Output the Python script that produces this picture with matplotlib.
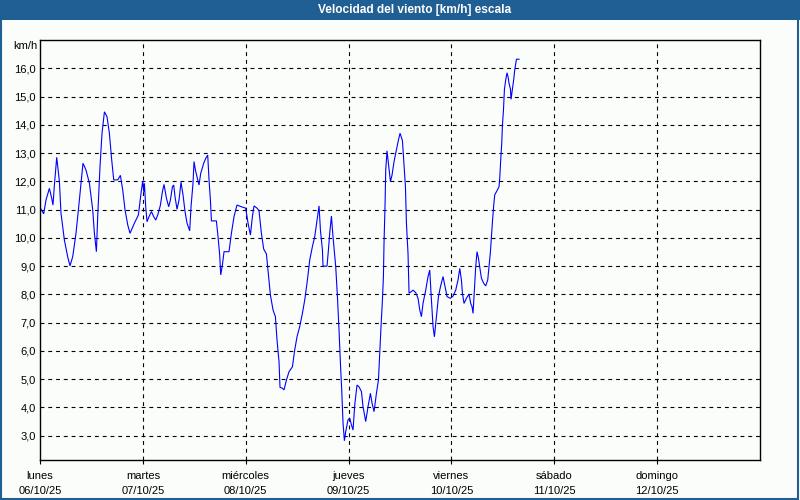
import matplotlib
matplotlib.use("Agg")
import matplotlib.pyplot as plt
from matplotlib.patches import Rectangle

plt.rcParams['font.family'] = ['Liberation Sans', 'DejaVu Sans']

title = "Velocidad del viento [km/h] escala"
unit = "km/h"
day_names = ["lunes", "martes", "miércoles", "jueves", "viernes", "sábado", "domingo"]
day_dates = ["06/10/25", "07/10/25", "08/10/25", "09/10/25", "10/10/25", "11/10/25", "12/10/25"]
y_ticks = [3, 4, 5, 6, 7, 8, 9, 10, 11, 12, 13, 14, 15, 16]

# hours since Monday 06/10/25 00:00
hours = [0.1, 0.86, 1.40, 2.19, 2.73, 3.03, 3.36, 3.90, 4.53, 4.90, 5.69, 6.46, 7.00, 7.63,
         8.40, 9.19, 10.03, 10.73, 11.53, 12.30, 12.69, 13.16, 13.46, 14.00, 14.47, 15.03,
         15.63, 16.19, 16.73, 17.20, 18.13, 18.76, 19.30, 19.84, 20.47, 21.00, 22.03, 22.96,
         23.57, 23.97, 24.20, 24.36, 24.67, 24.97, 25.44, 26.00, 26.53, 27.00, 27.54, 28.10,
         28.56, 28.94, 29.50, 30.03, 30.43, 30.90, 31.20, 31.50, 31.97, 32.44, 32.90, 33.37,
         33.84, 34.30, 34.93, 35.24, 35.70, 35.94, 36.26, 36.64, 37.10, 37.50, 38.20, 38.67,
         39.13, 39.44, 39.76, 40.00, 41.16, 41.54, 41.93, 42.17, 42.56, 42.94, 44.10, 44.66,
         45.27, 45.97, 47.00, 48.00, 48.54, 49.10, 49.56, 49.94, 50.64, 51.10, 51.66, 52.20,
         52.83, 53.20, 53.76, 54.37, 54.93, 55.30, 55.77, 56.00, 56.56, 56.94, 57.50, 58.10,
         58.90, 59.43, 59.97, 60.60, 61.23, 61.77, 62.30, 62.94, 63.56, 64.10, 64.64, 65.11,
         65.43, 65.90, 66.04, 66.97, 67.30, 67.60, 68.00, 68.37, 69.00, 69.40, 69.77, 70.10,
         70.40, 70.71, 71.03, 71.33, 71.87, 72.27, 72.67, 73.04, 73.44, 73.97, 74.44, 75.00,
         75.37, 76.00, 76.54, 77.10, 77.48, 77.94, 78.50, 78.97, 79.27, 79.57, 79.90, 80.13,
         80.27, 80.51, 80.67, 80.97, 81.37, 81.77, 82.14, 82.61, 83.17, 83.63, 84.01, 84.57,
         84.87, 85.27, 85.50, 85.87, 86.11, 86.57, 87.04, 87.67, 88.21, 88.61, 89.00, 89.37,
         90.00, 90.54, 90.94, 91.24, 91.71, 92.03, 92.50, 92.97, 93.44, 94.04, 94.51, 94.98,
         95.77, 96.37, 97.00, 97.54, 97.94, 98.33, 98.57, 98.94, 99.50, 100.10, 100.50, 100.81,
         101.04, 101.36, 101.67, 101.97, 102.30, 102.60, 103.00, 103.53, 104.00, 104.47, 104.77,
         105.10, 105.33, 105.57, 105.87, 106.10, 106.64, 107.11, 107.27, 107.50, 107.74, 107.90,
         108.14, 108.37, 108.67, 108.97, 109.21, 109.44, 109.77, 109.91, 110.24, 110.54, 110.77,
         111.17, 111.78]

speed = [11.05, 10.85, 11.34, 11.75, 11.40, 11.16, 11.87, 12.85, 11.99, 10.87, 9.92, 9.33, 9.01, 9.33,
         10.16, 11.34, 12.64, 12.40, 11.93, 10.99, 10.16, 9.51, 10.75, 12.52, 13.70, 14.46,
         14.29, 13.70, 12.76, 12.05, 12.05, 12.21, 11.69, 10.99, 10.46, 10.16, 10.52, 10.81,
         11.58, 12.01, 11.63, 11.93, 11.10, 10.57, 10.75, 10.93, 10.75, 10.63, 10.84, 11.16,
         11.63, 11.89, 11.40, 11.10, 11.34, 11.81, 11.87, 11.46, 11.01, 11.34, 11.97, 11.52,
         10.93, 10.52, 10.25, 11.10, 11.93, 12.70, 12.40, 12.16, 11.87, 12.28, 12.64, 12.81,
         12.93, 12.05, 11.34, 10.60, 10.60, 10.04, 9.39, 8.69, 9.04, 9.51, 9.51, 10.16,
         10.75, 11.16, 11.10, 11.05, 10.52, 10.10, 10.75, 11.13, 11.05, 10.96, 10.16, 9.60,
         9.43, 8.86, 7.98, 7.45, 7.21, 6.39, 5.62, 4.71, 4.68, 4.62, 4.97, 5.26,
         5.44, 6.03, 6.50, 6.86, 7.33, 7.80, 8.39, 9.22, 9.69, 10.04, 10.63, 11.13,
         10.28, 9.57, 9.00, 9.00, 9.57, 10.16, 10.77, 10.04, 8.98, 7.92, 6.74, 5.56,
         4.62, 3.44, 2.82, 3.14, 3.56, 3.62, 3.38, 3.20, 4.09, 4.79, 4.73, 4.56,
         4.03, 3.50, 4.03, 4.50, 4.15, 3.85, 4.50, 4.97, 5.92, 6.86, 7.80, 8.63,
         9.81, 11.16, 12.40, 13.08, 12.52, 11.99, 12.22, 12.70, 13.11, 13.46, 13.70, 13.44,
         12.76, 11.81, 10.52, 9.45, 8.04, 8.09, 8.15, 8.06, 7.86, 7.45, 7.21, 7.68,
         8.15, 8.63, 8.86, 8.04, 6.86, 6.50, 7.21, 7.92, 8.27, 8.63, 8.27, 7.92,
         7.86, 7.94, 8.15, 8.51, 8.92, 8.51, 8.04, 7.68, 7.86, 8.01, 7.68, 7.56,
         7.33, 8.15, 8.98, 9.51, 9.28, 8.98, 8.57, 8.39, 8.30, 8.51, 8.98,
         9.51, 10.04, 10.57, 11.16, 11.52, 11.67, 11.81, 12.11, 12.76, 13.35, 13.99,
         14.52, 15.26, 15.59, 15.84, 15.70, 15.47, 15.26, 14.90, 15.26, 15.61, 15.94,
         16.32, 16.32]

bg = "#fbfdfb"
bar_blue = "#1f5f93"

fig = plt.figure(figsize=(8, 5), dpi=100, facecolor=bg)
ax = fig.add_axes([40 / 800, 40 / 500, 720 / 800, 420 / 500])
ax.set_facecolor(bg)

days = [h / 24.0 for h in hours]
ax.plot(days, speed, color="#0000ff", lw=0.8, solid_joinstyle="miter")

ax.set_xlim(0, 7)
ax.set_ylim(2.14, 17.0)

ax.set_yticks(y_ticks)
ax.set_yticklabels([f"{v},0" for v in y_ticks], fontsize=8, color="#000000")
ax.tick_params(axis="y", length=0, pad=3)

ax.set_xticks(range(len(day_names)))
ax.set_xticklabels([f"{n}\n{d}" for n, d in zip(day_names, day_dates)],
                   fontsize=8, linespacing=1.55)
ax.tick_params(axis="x", length=3, width=0.8, pad=5, direction="out")

for v in y_ticks:
    ax.axhline(v, color="black", lw=0.8, dashes=(3.5, 3.5), zorder=0.5)
for d in range(1, 7):
    ax.axvline(d, color="black", lw=0.8, dashes=(3.5, 3.5), zorder=0.5)

for s in ax.spines.values():
    s.set_linewidth(1.0)
    s.set_color("black")

fig.text(37 / 800, 1 - 46 / 500, unit, ha="right", va="center", fontsize=8)

# title bar
fig.patches.append(Rectangle((0, 1 - 20 / 500), 1, 20 / 500, transform=fig.transFigure,
                             facecolor=bar_blue, edgecolor="none", zorder=0))
fig.text(415 / 800, 1 - 10 / 500, title, ha="center", va="center", fontsize=8.6,
         fontweight="bold", color="white")
# border
fig.patches.append(Rectangle((0.001, 0.002), 0.997, 0.99, transform=fig.transFigure,
                             facecolor="none", edgecolor=bar_blue, lw=1.5, zorder=0))

fig.savefig("out.png", dpi=100, facecolor=bg)
